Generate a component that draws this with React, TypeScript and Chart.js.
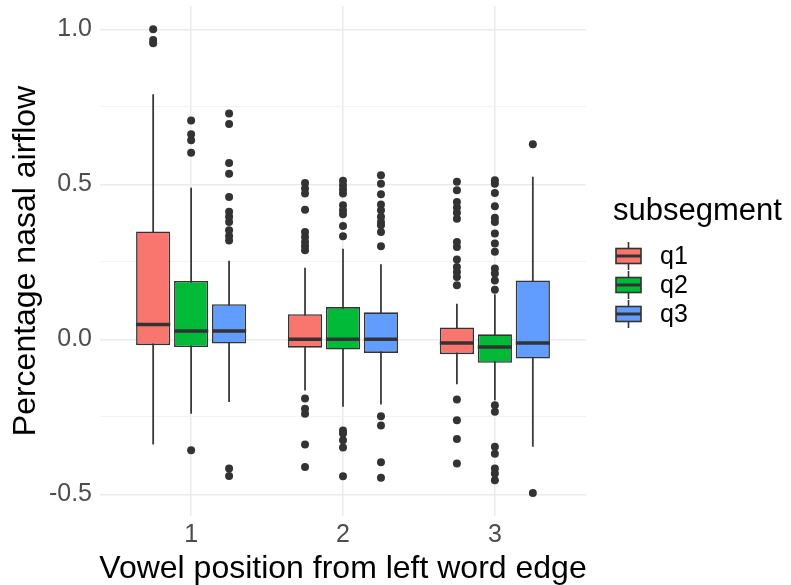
import React, { useEffect, useRef } from "react";
import { Chart, registerables } from "chart.js";

Chart.register(...registerables);

// ---------- data ----------
const positions = [1, 2, 3];
const positionLabels = ["1", "2", "3"];
const subsegments = ["q1", "q2", "q3"];
const fillColors = ["#F8766D", "#00BA38", "#619CFF"];
const yTickValues = [-0.5, -0.25, 0, 0.25, 0.5, 0.75, 1.0];

// q1 statistics for positions 1, 2, 3
const whiskerLowQ1 = [-0.339, -0.165, -0.145];
const hingeLowQ1 = [-0.019, -0.027, -0.048];
const medianQ1 = [0.048, 0.0, -0.012];
const hingeHighQ1 = [0.348, 0.081, 0.038];
const whiskerHighQ1 = [0.79, 0.231, 0.115];

// q2 statistics
const whiskerLowQ2 = [-0.24, -0.218, -0.197];
const hingeLowQ2 = [-0.025, -0.033, -0.076];
const medianQ2 = [0.027, 0.0, -0.025];
const hingeHighQ2 = [0.188, 0.104, 0.016];
const whiskerHighQ2 = [0.489, 0.292, 0.145];

// q3 statistics
const whiskerLowQ3 = [-0.202, -0.21, -0.347];
const hingeLowQ3 = [-0.014, -0.044, -0.062];
const medianQ3 = [0.027, 0.0, -0.012];
const hingeHighQ3 = [0.113, 0.087, 0.19];
const whiskerHighQ3 = [0.253, 0.242, 0.524];

// outliers per position
const outliersQ1 = [
  [1.0, 0.965, 0.955],
  [0.504, 0.486, 0.47, 0.418, 0.346, 0.33, 0.314, 0.3, 0.287, -0.191, -0.224, -0.24, -0.339, -0.412],
  [0.508, 0.481, 0.443, 0.425, 0.408, 0.389, 0.314, 0.298, 0.257, 0.233, 0.217, 0.201, 0.174, -0.194, -0.261, -0.322, -0.401],
];
const outliersQ2 = [
  [0.706, 0.661, 0.642, 0.602, -0.358],
  [0.511, 0.497, 0.483, 0.47, 0.432, 0.416, 0.403, 0.365, 0.332, -0.294, -0.304, -0.326, -0.349, -0.442],
  [0.513, 0.502, 0.472, 0.429, 0.392, 0.378, 0.341, 0.309, 0.282, 0.228, 0.212, 0.19, 0.16, -0.213, -0.234, -0.347, -0.369, -0.417, -0.433, -0.455],
];
const outliersQ3 = [
  [0.728, 0.694, 0.569, 0.534, 0.459, 0.411, 0.395, 0.378, 0.352, 0.333, 0.319, -0.417, -0.441],
  [0.529, 0.502, 0.468, 0.435, 0.416, 0.395, 0.378, 0.368, 0.346, 0.3, -0.248, -0.278, -0.397, -0.447],
  [0.629, -0.496],
];

const xTitle = "Vowel position from left word edge";
const yTitle = "Percentage nasal airflow";
const legendTitle = "subsegment";

// ---------- derived ----------
const dodge = [-0.25, 0, 0.25];
const whiskerLow = [whiskerLowQ1, whiskerLowQ2, whiskerLowQ3];
const hingeLow = [hingeLowQ1, hingeLowQ2, hingeLowQ3];
const medians = [medianQ1, medianQ2, medianQ3];
const hingeHigh = [hingeHighQ1, hingeHighQ2, hingeHighQ3];
const whiskerHigh = [whiskerHighQ1, whiskerHighQ2, whiskerHighQ3];
const outliers = [outliersQ1, outliersQ2, outliersQ3];

const FONT = "'Liberation Sans', Arial, Helvetica, sans-serif";
const DARK = "#333333";
const GRID = "#ebebeb";
const TICK = "#4d4d4d";

const isMajor = (n: number) => Math.abs(n * 2 - Math.round(n * 2)) < 1e-9;

const boxPlugin = {
  id: "boxExtras",
  beforeDatasetsDraw(chart: any) {
    const { ctx, scales } = chart;
    const x = scales.x;
    const y = scales.y;
    ctx.save();
    ctx.strokeStyle = "#3a3a3a";
    ctx.lineWidth = 1.8;
    subsegments.forEach((_, k) => {
      positions.forEach((p, i) => {
        const px = x.getPixelForValue(p + dodge[k]);
        ctx.beginPath();
        ctx.moveTo(px, y.getPixelForValue(whiskerLow[k][i]));
        ctx.lineTo(px, y.getPixelForValue(whiskerHigh[k][i]));
        ctx.stroke();
      });
    });
    ctx.restore();
  },
  afterDatasetsDraw(chart: any) {
    const { ctx, scales } = chart;
    const x = scales.x;
    const y = scales.y;
    ctx.save();
    ctx.strokeStyle = DARK;
    ctx.lineWidth = 3.5;
    subsegments.forEach((_, k) => {
      const meta = chart.getDatasetMeta(subsegments.length + k);
      positions.forEach((p, i) => {
        const bar = meta.data[i];
        const w = bar.width;
        const px = x.getPixelForValue(p + dodge[k]);
        const py = y.getPixelForValue(medians[k][i]);
        ctx.beginPath();
        ctx.moveTo(px - w / 2, py);
        ctx.lineTo(px + w / 2, py);
        ctx.stroke();
      });
    });
    ctx.restore();
  },
  afterDraw(chart: any) {
    const { ctx, chartArea } = chart;
    ctx.save();
    // axis titles
    ctx.fillStyle = "#000";
    ctx.font = `32px ${FONT}`;
    ctx.textAlign = "center";
    ctx.textBaseline = "alphabetic";
    ctx.fillText(xTitle, (chartArea.left + chartArea.right) / 2, 578);
    ctx.save();
    ctx.translate(35, (chartArea.top + chartArea.bottom) / 2);
    ctx.rotate(-Math.PI / 2);
    ctx.fillText(yTitle, 0, 0);
    ctx.restore();

    // legend
    ctx.textAlign = "left";
    ctx.font = `31px ${FONT}`;
    ctx.fillText(legendTitle, 613, 220);
    const keyCenters = [256, 285, 314];
    subsegments.forEach((name, k) => {
      const cy = keyCenters[k];
      const cx = 628.5;
      ctx.strokeStyle = DARK;
      ctx.lineWidth = 1.6;
      ctx.beginPath();
      ctx.moveTo(cx, cy - 14);
      ctx.lineTo(cx, cy + 14);
      ctx.stroke();
      ctx.fillStyle = fillColors[k];
      ctx.fillRect(cx - 12.5, cy - 7.5, 25, 15);
      ctx.lineWidth = 1.6;
      ctx.strokeRect(cx - 12.5, cy - 7.5, 25, 15);
      ctx.lineWidth = 3;
      ctx.beginPath();
      ctx.moveTo(cx - 12.5, cy);
      ctx.lineTo(cx + 12.5, cy);
      ctx.stroke();
      ctx.fillStyle = "#000";
      ctx.font = `25px ${FONT}`;
      ctx.textBaseline = "middle";
      ctx.fillText(name, 660, cy + 1);
    });
    ctx.restore();
  },
};

export default function App() {
  const canvasRef = useRef<HTMLCanvasElement | null>(null);

  useEffect(() => {
    document.body.style.margin = "0";
    const canvas = canvasRef.current;
    if (!canvas) return;

    const scatterSets = subsegments.map((name, k) => ({
      type: "scatter" as const,
      label: name + " outliers",
      data: positions.flatMap((p, i) => outliers[k][i].map((v) => ({ x: p + dodge[k], y: v }))),
      backgroundColor: DARK,
      borderColor: DARK,
      pointRadius: 4,
      pointBorderWidth: 0,
    }));

    const barSets = subsegments.map((name, k) => ({
      type: "bar" as const,
      label: name,
      data: positions.map((p, i) => ({ x: p + dodge[k], y: [hingeLow[k][i], hingeHigh[k][i]] })),
      backgroundColor: fillColors[k],
      borderColor: DARK,
      borderWidth: 1.6,
      borderSkipped: false,
      grouped: false,
      categoryPercentage: 1,
      barPercentage: 0.9,
    }));

    const chart = new Chart(canvas, {
      type: "bar",
      data: { datasets: [...scatterSets, ...barSets] as any },
      options: {
        animation: false,
        responsive: true,
        maintainAspectRatio: false,
        layout: { padding: { top: 6, right: 205, left: 0, bottom: 0 } },
        plugins: { legend: { display: false }, tooltip: { enabled: false } },
        scales: {
          x: {
            type: "linear",
            offset: false,
            min: 0.4,
            max: 3.6,
            afterFit: (s: any) => {
              s.height = 69;
              s.paddingLeft = 0;
              s.paddingRight = 0;
            },
            afterBuildTicks: (s: any) => {
              s.ticks = positions.map((v) => ({ value: v }));
            },
            ticks: {
              color: TICK,
              font: { size: 25, family: FONT },
              padding: 4,
              maxRotation: 0,
              callback: (v: any) => positionLabels[positions.indexOf(Number(v))] ?? "",
            },
            grid: { color: GRID, lineWidth: 1.5, drawTicks: false, offset: false },
            border: { display: false },
          },
          y: {
            type: "linear",
            min: -0.57,
            max: 1.075,
            afterFit: (s: any) => {
              s.width = 100;
              s.paddingTop = 0;
              s.paddingBottom = 0;
            },
            afterBuildTicks: (s: any) => {
              s.ticks = yTickValues.map((v) => ({ value: v }));
            },
            ticks: {
              color: TICK,
              font: { size: 25, family: FONT },
              padding: 8,
              callback: (v: any) => {
                const n = Number(v);
                return isMajor(n) ? n.toFixed(1) : "";
              },
            },
            grid: {
              color: (c: any) => (isMajor(c.tick ? c.tick.value : 0) ? GRID : "#f3f3f3"),
              lineWidth: (c: any) => (isMajor(c.tick ? c.tick.value : 0) ? 1.5 : 1),
              drawTicks: false,
            },
            border: { display: false },
          },
        },
      },
      plugins: [boxPlugin],
    });

    return () => chart.destroy();
  }, []);

  return (
    <div style={{ width: 791, height: 585, position: "relative" }}>
      <canvas ref={canvasRef} />
    </div>
  );
}
